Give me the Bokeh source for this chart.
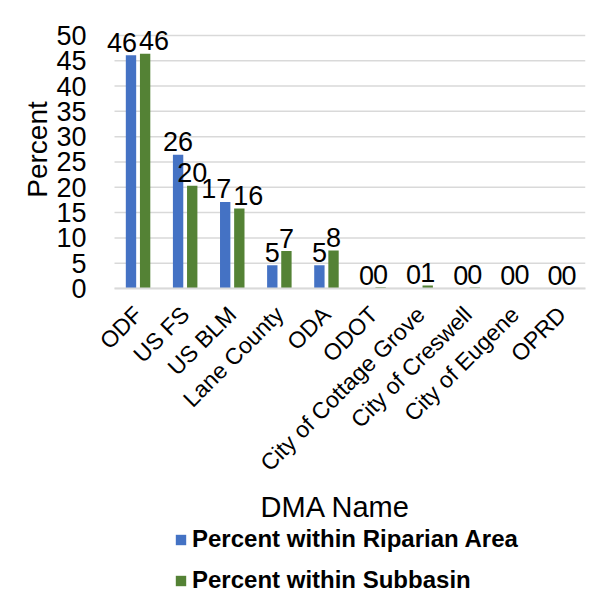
import math
from bokeh.plotting import figure
from bokeh.layouts import column
from bokeh.models import (ColumnDataSource, Range1d, FixedTicker, Legend, LegendItem, Label)
from bokeh.transform import dodge
from bokeh.core.properties import value
from bokeh.embed import file_html
from bokeh.resources import INLINE

# ---- data ----
dma_names = ["ODF", "US FS", "US BLM", "Lane County", "ODA", "ODOT",
             "City of Cottage Grove", "City of Creswell", "City of Eugene", "OPRD"]
pct_riparian = [46.1, 26.4, 17.1, 4.6, 4.6, 0.05, 0.1, 0.05, 0.03, 0.0]
pct_subbasin = [46.4, 20.3, 15.8, 7.4, 7.5, 0.25, 0.6, 0.2, 0.1, 0.02]
y_ticks = [0, 5, 10, 15, 20, 25, 30, 35, 40, 45, 50]
series_names = ["Percent within Riparian Area", "Percent within Subbasin"]
x_title = "DMA Name"
y_title = "Percent"

BLUE = "#4472C4"
GREEN = "#548235"
GRID = "#D9D9D9"
FONT = "Liberation Sans"

n = len(dma_names)
centers = [i + 0.5 for i in range(n)]          # category slot centres

lbl_r = [f"{v:.0f}" for v in pct_riparian]
lbl_s = [f"{v:.0f}" for v in pct_subbasin]
# push colliding two-digit labels apart (style only)
shift = [9 if (len(a) > 1 and len(b) > 1 and abs(r - s) < 4) else 0
         for a, b, r, s in zip(lbl_r, lbl_s, pct_riparian, pct_subbasin)]

src = ColumnDataSource(dict(
    xc=centers, rip=pct_riparian, sub=pct_subbasin,
    lbl_r=lbl_r, lbl_s=lbl_s,
    off_r=[-s for s in shift], off_s=shift,
))
grid_src = ColumnDataSource(dict(y=y_ticks, x0=[0] * len(y_ticks), x1=[n] * len(y_ticks)))

W = 596
MAIN_H = 488
p = figure(width=W, height=MAIN_H,
           x_range=Range1d(-0.255, n),
           y_range=Range1d(0, 54.92),
           output_backend="svg", toolbar_location=None,
           min_border_left=102, min_border_right=11,
           min_border_top=10, min_border_bottom=199)
p.outline_line_color = None
p.background_fill_color = "white"
p.border_fill_color = "white"
p.xgrid.visible = False
p.ygrid.visible = False

# horizontal gridlines across the category area
p.segment(x0="x0", x1="x1", y0="y", y1="y", source=grid_src,
          line_color=GRID, line_width=1.5)

r1 = p.vbar(x=dodge("xc", -0.15), top="rip", width=0.22,
            source=src, fill_color=BLUE, line_color=None)
r2 = p.vbar(x=dodge("xc", 0.15), top="sub", width=0.22,
            source=src, fill_color=GREEN, line_color=None)

p.text(x=dodge("xc", -0.15), y="rip", text="lbl_r",
       x_offset="off_r", y_offset=-13, source=src,
       text_align="center", text_baseline="alphabetic",
       text_font=value(FONT), text_font_size="27px", text_color="black")
p.text(x=dodge("xc", 0.15), y="sub", text="lbl_s",
       x_offset="off_s", y_offset=-13, source=src,
       text_align="center", text_baseline="alphabetic",
       text_font=value(FONT), text_font_size="27px", text_color="black")

# y axis
p.yaxis.ticker = FixedTicker(ticks=y_ticks)
p.yaxis.axis_line_color = None
p.yaxis.major_tick_line_color = None
p.yaxis.minor_tick_line_color = None
p.yaxis.major_label_standoff = 10
p.yaxis.major_label_text_font = FONT
p.yaxis.major_label_text_font_size = "27px"
p.yaxis.major_label_text_color = "black"
p.yaxis.axis_label = y_title
p.yaxis.axis_label_text_font = FONT
p.yaxis.axis_label_text_font_size = "28px"
p.yaxis.axis_label_text_font_style = "normal"
p.yaxis.axis_label_text_color = "black"
p.yaxis.axis_label_standoff = 0

# x axis (category names on slot centres)
p.xaxis.ticker = FixedTicker(ticks=centers)
p.xaxis.major_label_overrides = {c: name for c, name in zip(centers, dma_names)}
p.xaxis.bounds = (0, n)
p.xaxis.axis_line_color = GRID
p.xaxis.axis_line_width = 2
p.xaxis.major_tick_line_color = None
p.xaxis.minor_tick_line_color = None
p.xaxis.major_label_orientation = math.pi / 4
p.xaxis.major_label_standoff = 16
p.xaxis.major_label_text_font = FONT
p.xaxis.major_label_text_font_size = "23px"
p.xaxis.major_label_text_color = "black"

# ---- axis title + legend strip below the chart ----
LG_H = 112
lg = figure(width=W, height=LG_H, output_backend="svg", toolbar_location=None,
            x_range=Range1d(0, 1), y_range=Range1d(0, 1),
            x_axis_location=None, y_axis_location=None,
            min_border=0, min_border_left=0, min_border_right=0,
            min_border_top=0, min_border_bottom=0)
lg.outline_line_color = None
lg.xgrid.visible = False
lg.ygrid.visible = False
dummy = ColumnDataSource(dict(x=[0.5], top=[0.0]))
g1 = lg.vbar(x="x", top="top", width=0.01, source=dummy, fill_color=BLUE, line_color=None)
g2 = lg.vbar(x="x", top="top", width=0.01, source=dummy, fill_color=GREEN, line_color=None)

lg.add_layout(Label(x=233, y=94, x_units="screen", y_units="screen",
                    text=x_title, text_align="center", text_baseline="middle",
                    text_font=FONT, text_font_size="29px", text_color="black"))

legend = Legend(items=[LegendItem(label=series_names[0], renderers=[g1]),
                       LegendItem(label=series_names[1], renderers=[g2])],
                location=(72, 6), orientation="vertical",
                glyph_width=13, glyph_height=13, label_standoff=5,
                spacing=13, padding=0, margin=0,
                label_text_font=FONT, label_text_font_size="24px",
                label_text_font_style="bold", label_text_color="black",
                background_fill_alpha=0, border_line_color=None)
lg.add_layout(legend)

layout = column(p, lg, spacing=0)
open("out.html", "w").write(file_html(layout, INLINE))
